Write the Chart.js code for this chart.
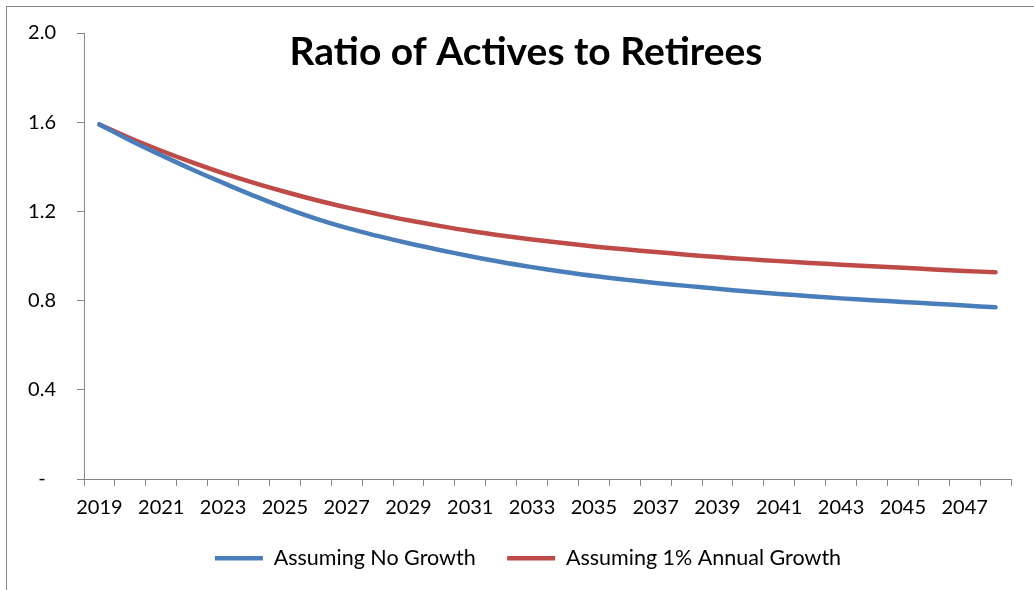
<!DOCTYPE html>
<html><head><meta charset="utf-8">
<script src="https://cdn.jsdelivr.net/npm/chart.js@4.4.0/dist/chart.umd.min.js"></script>
<style>html,body{margin:0;padding:0;background:#fff;}#wrap{width:1034px;height:590px;}</style>
</head><body><div id="wrap"><canvas id="c" width="1034" height="590"></canvas></div>
<script>
const years = ['2019','2020','2021','2022','2023','2024','2025','2026','2027','2028',
  '2029','2030','2031','2032','2033','2034','2035','2036','2037','2038',
  '2039','2040','2041','2042','2043','2044','2045','2046','2047','2048'];
const noGrowth = [1.590,1.518,1.452,1.388,1.328,1.270,1.216,1.168,1.126,1.090,
  1.057,1.027,0.999,0.973,0.950,0.929,0.910,0.894,0.879,0.866,
  0.853,0.841,0.830,0.820,0.810,0.802,0.794,0.786,0.778,0.770];
const growth1 = [1.590,1.528,1.472,1.420,1.372,1.328,1.288,1.251,1.218,1.188,
  1.160,1.135,1.112,1.092,1.074,1.058,1.043,1.030,1.018,1.006,
  0.995,0.986,0.977,0.969,0.961,0.954,0.947,0.940,0.933,0.927];
const yTickValues = [0, 0.4, 0.8, 1.2, 1.6, 2.0];
const yTickLabels = ['-  ', '0.4', '0.8', '1.2', '1.6', '2.0'];
const seriesNames = ['Assuming No Growth', 'Assuming 1% Annual Growth'];
const seriesColors = ['#4A7EBB', '#BE4B48'];
const chartTitle = 'Ratio of Actives to Retirees';

const AXIS = '#868686';
Chart.defaults.font.family = 'Lato';
Chart.defaults.font.size = 20;
Chart.defaults.color = '#000';

const framePlugin = {
  id: 'frame',
  beforeDraw(chart) {
    const ctx = chart.ctx;
    ctx.save();
    ctx.fillStyle = '#fff';
    ctx.fillRect(0, 0, chart.width, chart.height);
    ctx.strokeStyle = AXIS;
    ctx.lineWidth = 1;
    ctx.strokeRect(6.5, 6.5, 1200, 1200);
    ctx.restore();
  },
  afterLayout(chart) {
    // centre the legend under the reference position
    const lg = chart.legend;
    if (lg) { lg.left += 19.5; lg.right += 19.5; }
  }
};
const titlePlugin = {
  id: 'innerTitle',
  afterDraw(chart) {
    const ctx = chart.ctx;
    ctx.save();
    ctx.font = 'bold 39px Lato';
    ctx.fillStyle = '#000';
    ctx.textAlign = 'center';
    ctx.textBaseline = 'alphabetic';
    ctx.fillText(chartTitle, 526, 65);
    ctx.restore();
  }
};

new Chart(document.getElementById('c'), {
  type: 'line',
  data: {
    labels: years,
    datasets: [
      { label: seriesNames[0], data: noGrowth, borderColor: seriesColors[0], backgroundColor: seriesColors[0],
        borderWidth: 4.5, pointRadius: 0, tension: 0.4, borderCapStyle: 'round', fill: false },
      { label: seriesNames[1], data: growth1, borderColor: seriesColors[1], backgroundColor: seriesColors[1],
        borderWidth: 4.5, pointRadius: 0, tension: 0.4, borderCapStyle: 'round', fill: false }
    ]
  },
  options: {
    responsive: false,
    animation: false,
    devicePixelRatio: 1,
    layout: { padding: { left: 6, right: 23, top: 33, bottom: 11 } },
    plugins: {
      title: { display: false },
      tooltip: { enabled: false },
      legend: {
        position: 'bottom',
        labels: {
          usePointStyle: true,
          pointStyle: 'line',
          pointStyleWidth: 48,
          padding: 31.5,
          font: { size: 21.5 },
          color: '#000'
        }
      }
    },
    scales: {
      x: {
        offset: true,
        grid: { offset: true, drawOnChartArea: false, tickLength: 7, color: AXIS },
        border: { color: AXIS, width: 1 },
        ticks: {
          autoSkip: false, maxRotation: 0, minRotation: 0, padding: 10,
          callback: (v, i) => (i % 2 === 0 ? years[i] : '')
        },
        afterFit: (s) => { s.height = 37; }
      },
      y: {
        min: 0, max: 2,
        grid: { drawOnChartArea: false, tickLength: 7, color: AXIS },
        border: { color: AXIS, width: 1 },
        ticks: {
          stepSize: 0.4, padding: 21,
          callback: (v) => {
            const i = yTickValues.findIndex(t => Math.abs(t - v) < 1e-6);
            return i >= 0 ? yTickLabels[i] : '';
          }
        },
        afterFit: (s) => { s.width = 78; }
      }
    }
  },
  plugins: [framePlugin, titlePlugin]
});
</script></body></html>
